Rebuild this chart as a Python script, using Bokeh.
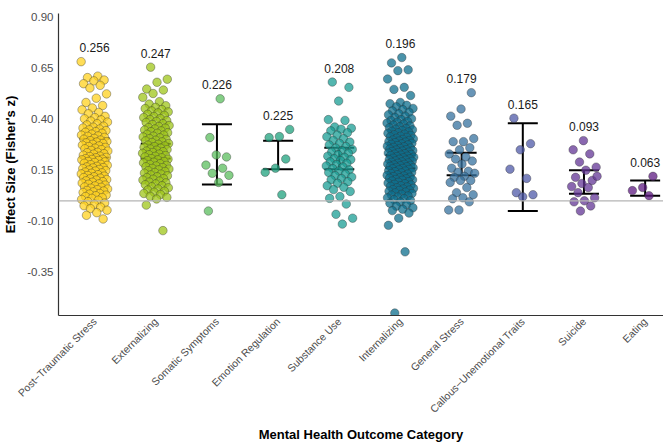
import numpy as np
from bokeh.plotting import figure
from bokeh.models import (ColumnDataSource, FixedTicker, NumeralTickFormatter,
                          Range1d, Span, Whisker, TeeHead, Title)
from bokeh.embed import file_html
from bokeh.resources import INLINE

# ---- data -------------------------------------------------------------
categories = ["Post\u2212Traumatic Stress", "Externalizing", "Somatic Symptoms",
              "Emotion Regulation", "Substance Use", "Internalizing",
              "General Stress", "Callous\u2212Unemotional Traits", "Suicide", "Eating"]

mean_labels = [0.256, 0.247, 0.226, 0.225, 0.208, 0.196, 0.179, 0.165, 0.093, 0.063]

ci_lower = [0.212, 0.208, 0.080, 0.155, 0.155, 0.160, 0.125, -0.050, 0.035, 0.025]
ci_upper = [0.305, 0.280, 0.375, 0.295, 0.260, 0.225, 0.235, 0.380, 0.150, 0.100]

post_traumatic_stress = [
    0.682, 0.611, 0.604, 0.592, 0.588, 0.574, 0.566, 0.553, 0.524, 0.503,
    0.482, 0.467, 0.455, 0.446, 0.433, 0.427, 0.414, 0.408, 0.402,
    0.397, 0.391, 0.386, 0.378, 0.372, 0.366, 0.361, 0.357, 0.352,
    0.348, 0.344, 0.339, 0.336, 0.331, 0.327, 0.322, 0.318, 0.316, 0.311, 0.306, 0.302,
    0.298, 0.295, 0.291, 0.288, 0.284, 0.281, 0.277, 0.273, 0.269, 0.266, 0.262, 0.258, 0.255, 0.251,
    0.247, 0.244, 0.238, 0.236, 0.231, 0.229, 0.224, 0.219, 0.217, 0.213, 0.211, 0.207, 0.204, 0.203, 0.201,
    0.198, 0.193, 0.191, 0.188, 0.184, 0.179, 0.177, 0.174, 0.169, 0.166, 0.163, 0.161, 0.158, 0.154, 0.151,
    0.148, 0.146, 0.141, 0.137, 0.135, 0.132, 0.128, 0.124, 0.121, 0.118, 0.114, 0.111, 0.108, 0.104, 0.102,
    0.098, 0.094, 0.091, 0.087, 0.083, 0.081, 0.077, 0.073, 0.068, 0.066, 0.062, 0.058, 0.055, 0.051,
    0.048, 0.044, 0.041, 0.036, 0.033, 0.028, 0.025, 0.021, 0.016, 0.012, 0.007, 0.003,
    -0.004, -0.011, -0.017, -0.024, -0.031, -0.038, -0.046, -0.058, -0.071, -0.089,
]

externalizing = [
    0.655, 0.596, 0.581, 0.548, 0.543, 0.526, 0.507, 0.486, 0.474, 0.466, 0.458, 0.452,
    0.447, 0.441, 0.436, 0.431, 0.424, 0.419, 0.413, 0.408, 0.403,
    0.398, 0.393, 0.389, 0.384, 0.378, 0.374, 0.369, 0.364, 0.359, 0.356, 0.352,
    0.347, 0.343, 0.339, 0.334, 0.331, 0.326, 0.322, 0.317, 0.313, 0.309, 0.305, 0.301,
    0.297, 0.294, 0.289, 0.286, 0.281, 0.277, 0.273, 0.269, 0.266, 0.262, 0.258, 0.254, 0.251,
    0.248, 0.244, 0.241, 0.237, 0.233, 0.229, 0.226, 0.222, 0.218, 0.215, 0.211, 0.207, 0.204, 0.201,
    0.197, 0.193, 0.189, 0.186, 0.182, 0.178, 0.174, 0.171, 0.167, 0.163, 0.159, 0.156, 0.152,
    0.148, 0.144, 0.139, 0.136, 0.131, 0.127, 0.123, 0.118, 0.114, 0.109, 0.106, 0.102,
    0.097, 0.092, 0.088, 0.083, 0.079, 0.074, 0.069, 0.064, 0.058, 0.053,
    0.047, 0.042, 0.036, 0.031, 0.022, 0.017, 0.009,
    -0.021, -0.146,
]

somatic_symptoms = [0.500, 0.310, 0.215, 0.225, 0.175, 0.160, 0.135, 0.125, 0.090, -0.050]

emotion_regulation = [0.350, 0.315, 0.310, 0.205, 0.160, 0.140, 0.030]

substance_use = [
    0.582, 0.556, 0.489, 0.398, 0.394, 0.362, 0.356, 0.351,
    0.343, 0.334, 0.322, 0.314, 0.305,
    0.296, 0.288, 0.281, 0.274, 0.266, 0.259, 0.252,
    0.246, 0.239, 0.233, 0.226, 0.219, 0.213, 0.207, 0.202,
    0.197, 0.191, 0.184, 0.178, 0.171, 0.166, 0.158, 0.152,
    0.146, 0.139, 0.131, 0.124, 0.117, 0.109, 0.103,
    0.094, 0.086, 0.074, 0.066, 0.055,
    0.046, 0.021, 0.012,
    -0.016, -0.066, -0.085, -0.114,
]

internalizing = [
    0.702, 0.676, 0.642, 0.638, 0.597, 0.556, 0.546, 0.516, 0.482,
    0.476, 0.468, 0.461, 0.453,
    0.447, 0.441, 0.434, 0.427, 0.422, 0.415, 0.409, 0.402,
    0.398, 0.394, 0.389, 0.385, 0.381, 0.376, 0.371, 0.367, 0.363, 0.358, 0.355, 0.351,
    0.348, 0.345, 0.341, 0.338, 0.334, 0.331, 0.327, 0.324, 0.321, 0.317, 0.314, 0.311, 0.307, 0.304, 0.301,
    0.298, 0.296, 0.293, 0.291, 0.288, 0.285, 0.282, 0.279, 0.277, 0.274, 0.271, 0.268, 0.265, 0.262,
    0.259, 0.257, 0.254, 0.251,
    0.249, 0.246, 0.244, 0.242, 0.239, 0.237, 0.234, 0.231, 0.229, 0.227, 0.224, 0.222, 0.219,
    0.217, 0.214, 0.211, 0.209, 0.206, 0.204, 0.201,
    0.199, 0.196, 0.194, 0.191, 0.189, 0.186, 0.184, 0.181, 0.179, 0.176, 0.174, 0.172, 0.169,
    0.167, 0.164, 0.162, 0.159, 0.157, 0.154, 0.152,
    0.148, 0.146, 0.143, 0.139, 0.137, 0.134, 0.131, 0.128, 0.125, 0.122, 0.119, 0.116, 0.113,
    0.111, 0.108, 0.105, 0.103, 0.101,
    0.097, 0.094, 0.091, 0.087, 0.084, 0.081, 0.078, 0.074, 0.071, 0.068, 0.064, 0.061,
    0.058, 0.055, 0.053, 0.051,
    0.047, 0.043, 0.039, 0.036, 0.032, 0.028, 0.024, 0.019, 0.015, 0.011, 0.006, 0.002,
    -0.006, -0.012, -0.019, -0.026, -0.034, -0.041, -0.048,
    -0.060, -0.085, -0.120, -0.250, -0.550,
]

general_stress = [
    0.530, 0.450, 0.415, 0.380, 0.370, 0.305, 0.290, 0.290, 0.260, 0.250,
    0.230, 0.215, 0.205, 0.195, 0.180, 0.160, 0.145, 0.140, 0.135, 0.120,
    0.115, 0.100, 0.100, 0.090, 0.065, 0.040, 0.030, 0.015, 0.010, -0.005,
    -0.045, -0.045,
]

callous_unemotional = [0.405, 0.280, 0.250, 0.155, 0.110, 0.040, 0.030, 0.020]

suicide = [
    0.295, 0.250, 0.230, 0.190, 0.165, 0.150, 0.115, 0.100, 0.085,
    0.070, 0.065, 0.040, 0.015, 0.000, -0.005, -0.025, -0.050, 0.120,
]

eating = [0.120, 0.065, 0.050, 0.025]

series = [post_traumatic_stress, externalizing, somatic_symptoms, emotion_regulation,
          substance_use, internalizing, general_stress, callous_unemotional,
          suicide, eating]

palette = ["#FFD21F", "#9FC51A", "#5BBE5E", "#1FA27E", "#1A9E94",
           "#0E6F8E", "#35729F", "#4F5AA8", "#633595", "#5E1B82"]

FONT = "Liberation Sans"

# ---- figure -------------------------------------------------------------
p = figure(width=663, height=443, output_backend="svg", toolbar_location=None,
           x_range=Range1d(0.41, 10.30), y_range=Range1d(-0.562, 0.918),
           min_border_left=0, min_border_right=0, min_border_top=13,
           min_border_bottom=0)
p.outline_line_color = None
p.xgrid.visible = False
p.ygrid.visible = False
p.background_fill_color = "white"
p.border_fill_color = "white"

# zero reference line
p.add_layout(Span(location=0, dimension="width", line_color="#b4b4b4", line_width=1.2))

# jittered points: positions spread deterministically around each category
golden = 0.6180339887
half_width = 0.22
for i, (vals, col) in enumerate(zip(series, palette)):
    k = np.arange(len(vals))
    frac = (k * golden + 0.31 * i) % 1.0
    xs = (i + 1) + (frac - 0.5) * 2 * half_width
    src = ColumnDataSource(dict(x=xs, y=vals))
    p.scatter("x", "y", source=src, size=8.5, fill_color=col, fill_alpha=0.75,
              line_color="#333333", line_alpha=0.55, line_width=0.7)

# confidence intervals
xpos = list(range(1, len(categories) + 1))
ci_src = ColumnDataSource(dict(x=xpos, lower=ci_lower, upper=ci_upper))
p.add_layout(Whisker(source=ci_src, base="x", lower="lower", upper="upper",
                     line_color="black", line_width=2,
                     upper_head=TeeHead(size=30, line_color="black", line_width=2),
                     lower_head=TeeHead(size=30, line_color="black", line_width=2)))

# mean labels above each cloud
label_y = [max(v) + 0.068 for v in series]
lab_src = ColumnDataSource(dict(x=xpos, y=label_y, t=[f"{m:.3f}" for m in mean_labels]))
p.text("x", "y", text="t", source=lab_src, text_align="center", text_baseline="middle",
       text_font_size="12px", text_color="#1a1a1a", text_font={"value": FONT})

# axes
p.xaxis.ticker = FixedTicker(ticks=xpos)
p.xaxis.major_label_overrides = {i + 1: c for i, c in enumerate(categories)}
p.xaxis.major_label_orientation = np.pi / 4
p.yaxis.ticker = FixedTicker(ticks=[-0.35, -0.10, 0.15, 0.40, 0.65, 0.90])
p.yaxis.formatter = NumeralTickFormatter(format="0.00")

for ax in (p.xaxis, p.yaxis):
    ax.axis_line_color = "#333333"
    ax.axis_line_width = 1.2
    ax.major_tick_line_color = None
    ax.minor_tick_line_color = None
    ax.major_tick_out = 0
    ax.major_tick_in = 0
    ax.major_label_text_font = FONT
    ax.major_label_text_color = "#4d4d4d"
    ax.axis_label_text_font = FONT
    ax.axis_label_text_font_style = "bold"
    ax.axis_label_text_color = "black"
    ax.axis_label_text_font_size = "13px"

p.xaxis.major_label_text_font_size = "10.5px"
p.yaxis.major_label_text_font_size = "11.5px"
p.xaxis.major_label_standoff = 4
p.yaxis.major_label_standoff = 5
p.yaxis.axis_label = "Effect Size (Fisher's z)"
p.yaxis.axis_label_standoff = 6

# x-axis title placed under the rotated category labels
p.add_layout(Title(text="Mental Health Outcome Category", align="center",
                   text_font=FONT, text_font_style="bold", text_font_size="13px",
                   text_color="black", standoff=4), "below")

open("out.html", "w").write(file_html(p, INLINE))
